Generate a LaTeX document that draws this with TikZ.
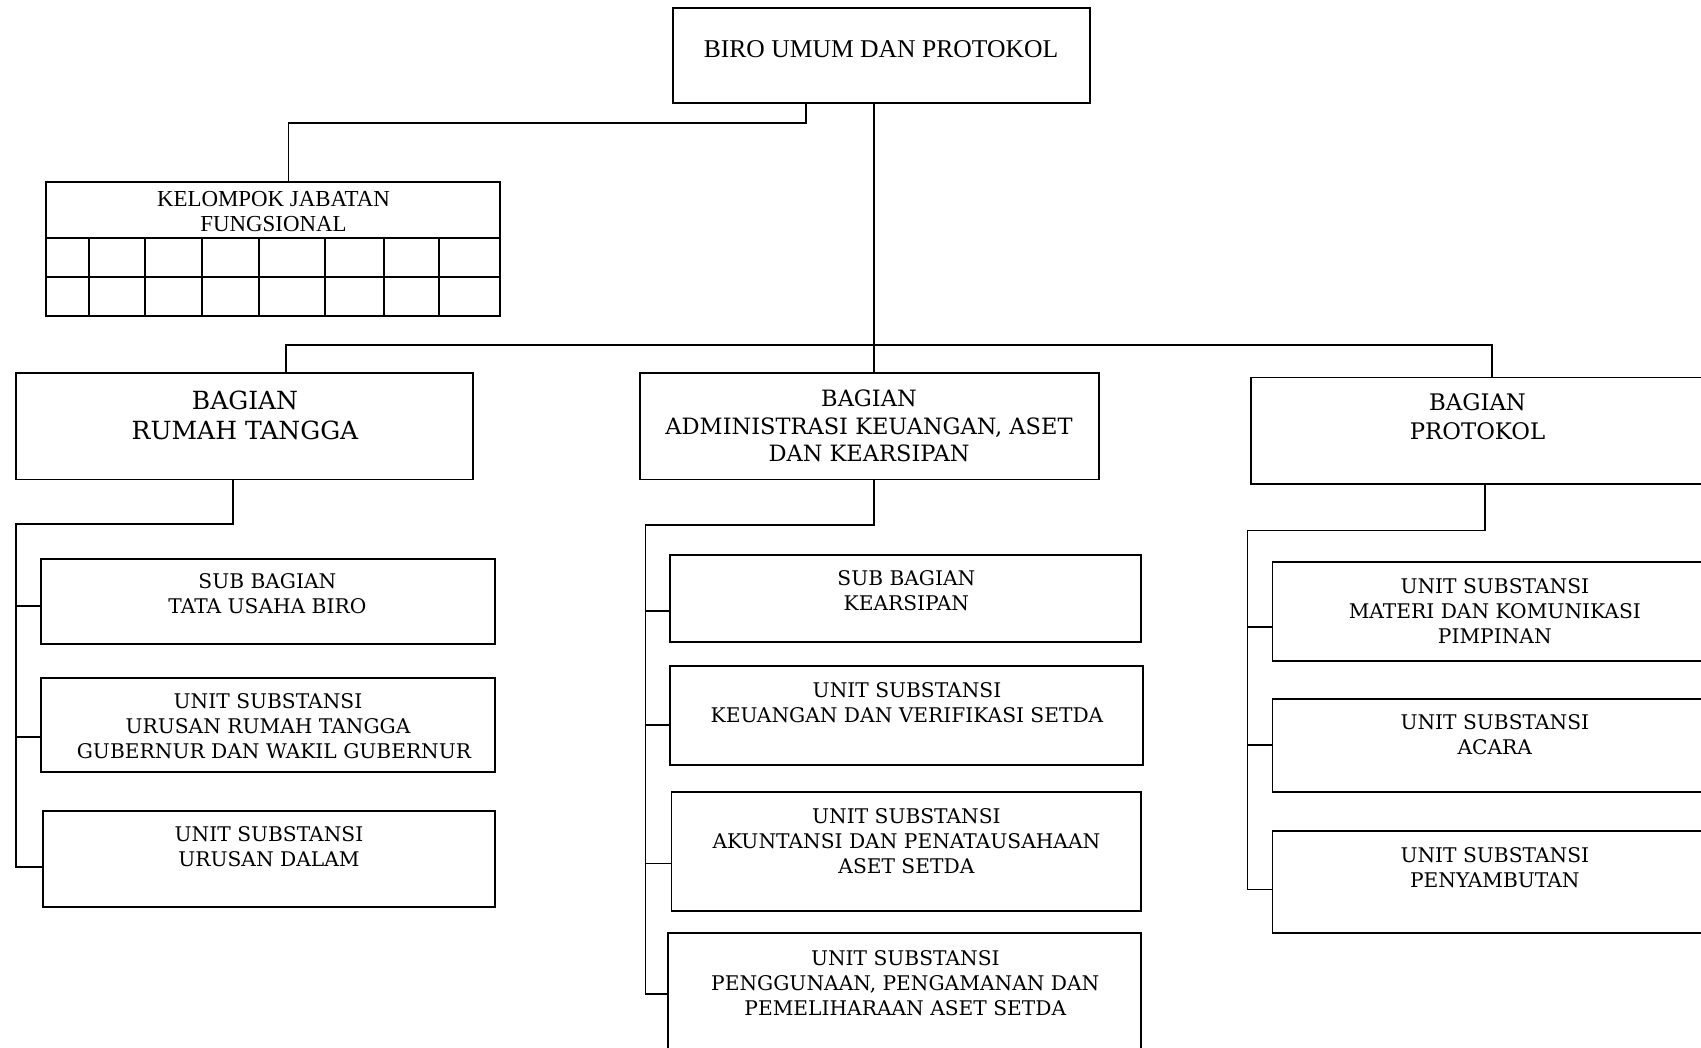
\documentclass[tikz,border=0pt]{standalone}
\usepackage{fontspec}
\setmainfont{DejaVu Serif}
\newfontfamily\timesfont{Liberation Serif}
\usetikzlibrary{fit}
\begin{document}
\begin{tikzpicture}[x=1pt,y=-1pt,
  frame/.style={draw, line width=1.9pt, inner sep=0pt, fit={#1}},
  conn/.style={draw, line width=1.9pt},
  txt/.style={align=center, inner sep=0pt, font=\fontsize{20.2}{25}\selectfont},
  head/.style={align=center, inner sep=0pt, font=\fontsize{22.5}{28}\selectfont},
]
\useasboundingbox (0,0) rectangle (1701,1048);
\clip (0,0) rectangle (1701,1048);
\fill[white] (0,0) rectangle (1701,1048);

% top office
\node[frame={(672.6,7.6) (1090.3,103)}] (biro) {};
\node[inner sep=0pt, font=\timesfont\fontsize{25.6}{28}\selectfont] (biro-t) at (881,48.8) {BIRO UMUM DAN PROTOKOL};

% functional group with its grid
\node[frame={(45.6,182) (500,315.7)}] (kjf) {};
\node[align=center, inner sep=0pt, font=\timesfont\fontsize{22.9}{25}\selectfont] (kjf-t) at (273.5,212) {KELOMPOK JABATAN\\FUNGSIONAL};
\draw[line width=1.9pt] (45.6,237.6) -- (500,237.6);
\draw[line width=1.9pt] (45.6,276.6) -- (500,276.6);
\foreach \cx in {89,145.4,201.8,259.3,325.4,384,439.3}
  \draw[line width=1.9pt] (\cx,237.6) -- (\cx,315.7);

% divisions
\node[frame={(16.3,373) (473,479.5)}] (rt) {};
\node[align=center, inner sep=0pt, font=\fontsize{25}{30}\selectfont] (rt-t) at (245,415.4) {BAGIAN\\RUMAH TANGGA};
\node[frame={(640,373) (1099,479.5)}] (adm) {};
\node[head, font=\fontsize{22.5}{27.7}\selectfont] (adm-t) at (869,425.9) {BAGIAN\\ADMINISTRASI KEUANGAN, ASET\\DAN KEARSIPAN};
\node[frame={(1250.8,377.5) (1715,483.8)}] (pro) {};
\node[head, font=\fontsize{22.8}{29}\selectfont] (pro-t) at (1477.5,417) {BAGIAN\\PROTOKOL};

% units under Rumah Tangga
\node[frame={(41.2,558.7) (494.7,644.4)}] (tu) {};
\node[txt] (tu-t) at (267.4,594) {SUB BAGIAN\\TATA USAHA BIRO};
\node[frame={(41.2,678) (494.7,772.4)}] (urt) {};
\node[txt] (urt-t) at (268,725.7) {UNIT SUBSTANSI\\URUSAN RUMAH TANGGA\\\hspace*{12pt}GUBERNUR DAN WAKIL GUBERNUR};
\node[frame={(43.4,811.4) (494.7,907)}] (ud) {};
\node[txt] (ud-t) at (269,846.7) {UNIT SUBSTANSI\\URUSAN DALAM};

% units under Administrasi
\node[frame={(670.4,555.4) (1141.2,642.2)}] (ars) {};
\node[txt] (ars-t) at (906.4,590.7) {SUB BAGIAN\\KEARSIPAN};
\node[frame={(670.4,666) (1143.4,764.8)}] (keu) {};
\node[txt] (keu-t) at (907,702.5) {UNIT SUBSTANSI\\KEUANGAN DAN VERIFIKASI SETDA};
\node[frame={(671.5,792) (1141.2,911.2)}] (akt) {};
\node[txt] (akt-t) at (906.4,840.7) {UNIT SUBSTANSI\\AKUNTANSI DAN PENATAUSAHAAN\\ASET SETDA};
\node[frame={(668.2,933) (1141.2,1075)}] (pgn) {};
\node[txt] (pgn-t) at (905.3,982.8) {UNIT SUBSTANSI\\PENGGUNAAN, PENGAMANAN DAN\\PEMELIHARAAN ASET SETDA};

% units under Protokol
\node[frame={(1272.5,562) (1715,660.6)}] (mat) {};
\node[txt] (mat-t) at (1494.8,610.7) {UNIT SUBSTANSI\\MATERI DAN KOMUNIKASI\\PIMPINAN};
\node[frame={(1272.5,698.6) (1715,792)}] (aca) {};
\node[txt] (aca-t) at (1494.8,735) {UNIT SUBSTANSI\\ACARA};
\node[frame={(1272.5,831) (1715,933)}] (pny) {};
\node[txt] (pny-t) at (1494.8,867.3) {UNIT SUBSTANSI\\PENYAMBUTAN};

% junction points
\coordinate (e1) at (806,122.6);
\coordinate (e2) at (288.5,122.6);
\coordinate (trunk) at (874,345);
\coordinate (busL) at (286,345);
\coordinate (busR) at (1491.6,345);
\coordinate (r1) at (233,524);
\coordinate (r2) at (16.3,524);
\coordinate (r3) at (16.3,606);
\coordinate (r4) at (16.3,736.6);
\coordinate (r5) at (16.3,866.8);
\coordinate (m1) at (874,525);
\coordinate (m2) at (645.5,525);
\coordinate (m3) at (645.5,610.7);
\coordinate (m4) at (645.5,724.6);
\coordinate (m5) at (645.5,863.5);
\coordinate (m6) at (645.5,993.7);
\coordinate (p1) at (1485,530.5);
\coordinate (p2) at (1247.5,530.5);
\coordinate (p3) at (1247.5,627);
\coordinate (p4) at (1247.5,745.3);
\coordinate (p5) at (1247.5,889.5);

% connectors
\draw[conn] (biro.south -| e1) -- (e1) -- (e2) -- (kjf.north -| e2);
\draw[conn] (biro.south -| trunk) -- (adm.north -| trunk);
\draw[conn] (rt.north -| busL) -- (busL) -- (busR) -- (pro.north -| busR);

\draw[conn] (rt.south -| r1) -- (r1) -- (r2) -- (r5) -- (ud.west |- r5);
\draw[conn] (r3) -- (tu.west |- r3);
\draw[conn] (r4) -- (urt.west |- r4);

\draw[conn] (adm.south -| m1) -- (m1) -- (m2) -- (m6) -- (pgn.west |- m6);
\draw[conn] (m3) -- (ars.west |- m3);
\draw[conn] (m4) -- (keu.west |- m4);
\draw[conn] (m5) -- (akt.west |- m5);

\draw[conn] (pro.south -| p1) -- (p1) -- (p2) -- (p5) -- (pny.west |- p5);
\draw[conn] (p3) -- (mat.west |- p3);
\draw[conn] (p4) -- (aca.west |- p4);
\end{tikzpicture}
\end{document}
